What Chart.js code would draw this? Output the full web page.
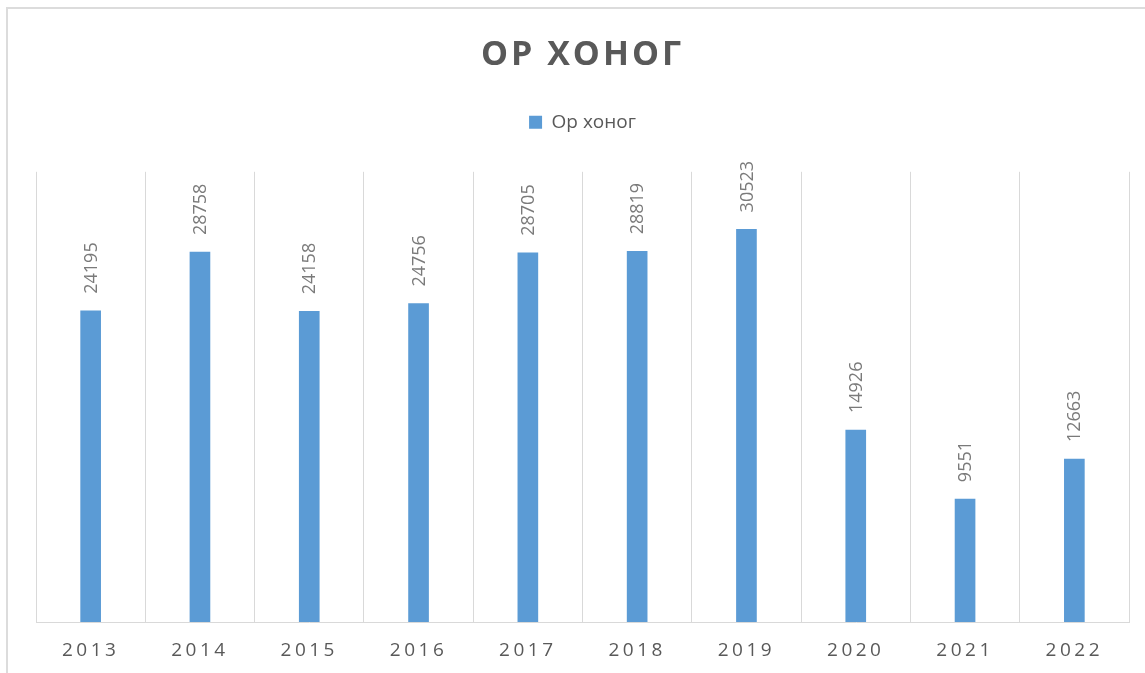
<!DOCTYPE html>
<html>
<head>
<meta charset="utf-8">
<script src="https://cdn.jsdelivr.net/npm/chart.js@4/dist/chart.umd.min.js"></script>
<style>
  html, body { margin: 0; padding: 0; background: #fff; overflow: hidden; }
  #frame { position: absolute; left: 6px; top: 7px; width: 1400px; height: 900px;
           border-left: 2px solid #dcdcdc; border-top: 2px solid #dcdcdc; box-sizing: border-box; }
  #wrap { position: absolute; left: 0; top: 0; width: 1145px; height: 673px; }
</style>
</head>
<body>
<div id="frame"></div>
<div id="wrap"><canvas id="c" width="1145" height="673"></canvas></div>
<script>
const chartTitle = "ОР ХОНОГ";
const seriesName = "Ор хоног";
const categories = ["2013", "2014", "2015", "2016", "2017", "2018", "2019", "2020", "2021", "2022"];
const values = [24195, 28758, 24158, 24756, 28705, 28819, 30523, 14926, 9551, 12663];
const yMax = 35000;

const FONT = "'Open Sans', 'DejaVu Sans', sans-serif";
const GRAY = "#595959";

const spacingPlugin = {
  id: 'spacing',
  afterLayout(chart) {
    const x = chart.scales.x;
    if (x && !x._spWrapped) {
      const orig = x.drawLabels.bind(x);
      x.drawLabels = function (area) {
        const ctx = chart.ctx; ctx.save(); ctx.letterSpacing = '3.5px'; orig(area); ctx.restore();
      };
      x._spWrapped = true;
    }
    const t = chart.titleBlock;
    if (t && !t._spWrapped) {
      const origT = t.draw.bind(t);
      t.draw = function (area) {
        const ctx = chart.ctx; ctx.save(); ctx.letterSpacing = '3px'; origT(area); ctx.restore();
      };
      t._spWrapped = true;
    }
  }
};

const labelPlugin = {
  id: 'barLabels',
  afterDatasetsDraw(chart) {
    const ctx = chart.ctx;
    const meta = chart.getDatasetMeta(0);
    ctx.save();
    ctx.font = "18px " + FONT;
    ctx.fillStyle = "#7a7a7a";
    ctx.textAlign = 'left';
    ctx.textBaseline = 'middle';
    meta.data.forEach((bar, i) => {
      ctx.save();
      ctx.translate(bar.x, bar.y - 17);
      ctx.rotate(-Math.PI / 2);
      ctx.fillText(String(chart.data.datasets[0].data[i]), 0, 1);
      ctx.restore();
    });
    ctx.restore();
  }
};

new Chart(document.getElementById('c'), {
  type: 'bar',
  data: {
    labels: categories,
    datasets: [{
      label: seriesName,
      data: values,
      backgroundColor: '#5b9bd5',
      borderWidth: 0,
      barThickness: 20
    }]
  },
  options: {
    responsive: false,
    animation: false,
    devicePixelRatio: 1,
    layout: { padding: { left: 36, right: 16, top: 0, bottom: 0 } },
    plugins: {
      title: {
        display: true,
        text: chartTitle,
        color: GRAY,
        font: { family: FONT, size: 34, weight: 'bold', lineHeight: 1.2 },
        padding: { top: 35, bottom: 27 }
      },
      legend: {
        display: true,
        position: 'top',
        labels: {
          color: GRAY,
          font: { family: FONT, size: 19 },
          boxWidth: 13,
          boxHeight: 13,
          padding: 10
        }
      },
      tooltip: { enabled: false }
    },
    scales: {
      x: {
        grid: { display: true, offset: true, color: '#d9d9d9', lineWidth: 1, drawTicks: false },
        border: { display: true, color: '#d9d9d9', width: 1 },
        ticks: { color: GRAY, font: { family: FONT, size: 19 }, padding: 17, maxRotation: 0 },
        afterFit(scale) { scale.height = 51; }
      },
      x2: {
        type: 'category',
        position: 'top',
        display: true,
        grid: { display: false, drawTicks: false },
        border: { display: false },
        ticks: { display: false },
        afterFit(scale) { scale.height = 30; }
      },
      y: {
        display: false,
        min: 0,
        max: yMax
      }
    }
  },
  plugins: [spacingPlugin, labelPlugin]
});
</script>
</body>
</html>
